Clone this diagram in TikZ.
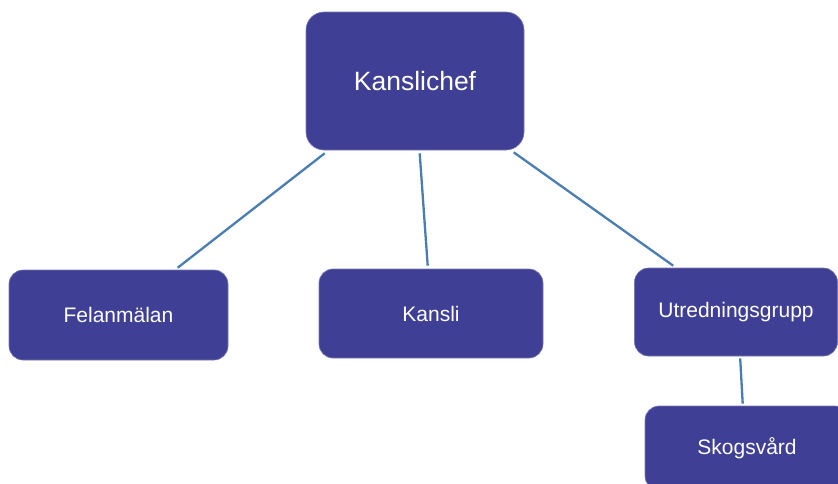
\documentclass[tikz,border=0pt]{standalone}
\usepackage{fontspec}
\setmainfont{Liberation Sans}
\definecolor{boxfill}{HTML}{3F4095}
\definecolor{linkblue}{HTML}{4A7EB2}
\begin{document}
\begin{tikzpicture}[x=1pt,y=-1pt,
  orgbox/.style={rectangle, rounded corners=14pt, fill=boxfill, draw=boxfill!70!white, line width=0.6pt, text=white, inner sep=0pt, font=\fontsize{21}{24}\selectfont},
  link/.style={draw=linkblue, line width=2.3pt}]
\useasboundingbox (0,0) rectangle (838,483);
\clip (0,0) rectangle (838,483);
\node[orgbox, minimum width=218pt, minimum height=138pt, rounded corners=18pt, font=\fontsize{26.5}{30}\selectfont] (k) at (415,81) {Kanslichef};
\node[orgbox, minimum width=219pt, minimum height=90pt] (f) at (118.5,315) {Felanmälan};
\node[orgbox, minimum width=224pt, minimum height=89pt] (ka) at (431,313.5) {Kansli};
\node[orgbox, minimum width=203pt, minimum height=88pt] (u) at (736,312) {Utredningsgrupp};
\node[orgbox, minimum width=204pt, minimum height=84pt] (s) at (747,448) {Skogsvård};
\draw[link] ([xshift=19pt,yshift=-3pt]k.south west) -- ([xshift=169pt,yshift=2pt]f.north west);
\draw[link] ([xshift=114pt,yshift=-3pt]k.south west) -- ([xshift=109pt,yshift=3pt]ka.north west);
\draw[link] ([xshift=208pt,yshift=-2pt]k.south west) -- ([xshift=39pt,yshift=2pt]u.north west);
\draw[link] ([xshift=106pt,yshift=-2pt]u.south west) -- ([xshift=98pt,yshift=2pt]s.north west);
\end{tikzpicture}
\end{document}
